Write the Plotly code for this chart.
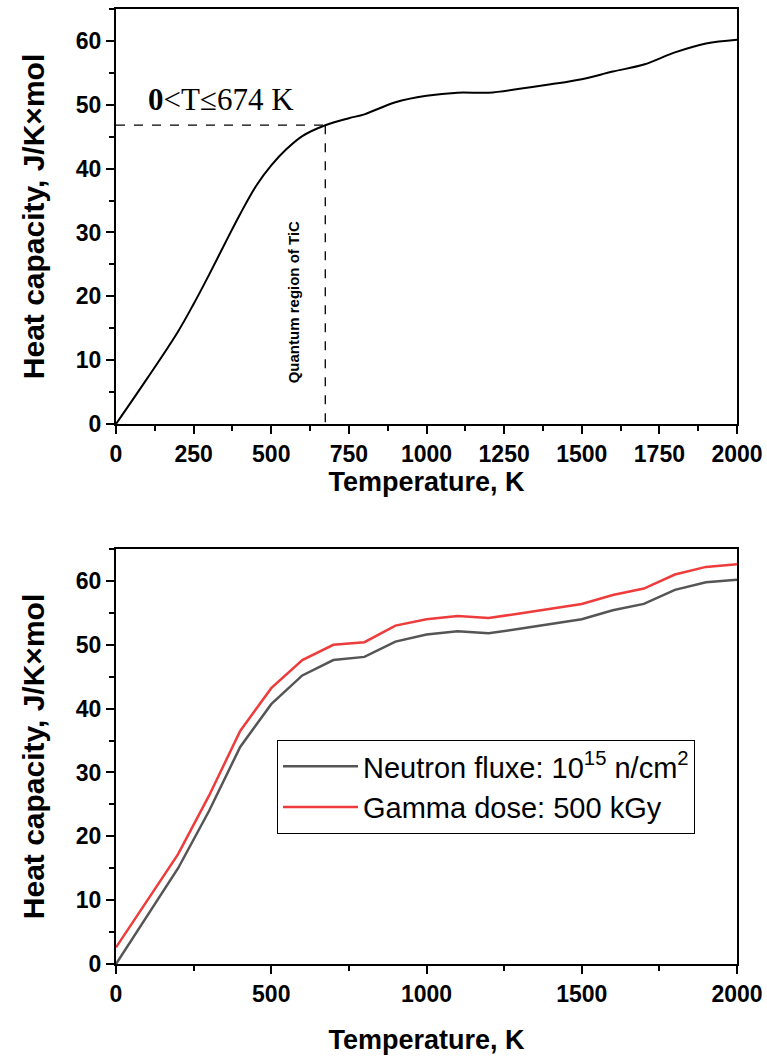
import plotly.graph_objects as go

# ---------------- data ----------------
T_top = [0, 100, 200, 250, 300, 350, 400, 450, 500, 550, 600, 674, 750, 800,
         900, 1000, 1100, 1200, 1300, 1400, 1500, 1600, 1700, 1800, 1900, 2000]
Cp_top = [0, 7.1, 14.5, 18.8, 23.4, 28.2, 32.9, 37.2, 40.5, 43.1, 45.1, 46.8,
          47.9, 48.5, 50.4, 51.4, 51.9, 51.9, 52.5, 53.2, 54.0, 55.2, 56.3, 58.2,
          59.6, 60.2]

T_bot = [0, 100, 200, 300, 400, 500, 600, 700, 800, 900, 1000, 1100, 1200, 1300,
         1400, 1500, 1600, 1700, 1800, 1900, 2000]
Cp_neutron = [0, 7.5, 15.0, 24.0, 34.0, 40.7, 45.2, 47.6, 48.1, 50.5, 51.6, 52.1,
              51.8, 52.5, 53.2, 54.0, 55.4, 56.4, 58.6, 59.8, 60.2]
Cp_gamma = [2.6, 9.8, 17.2, 26.4, 36.5, 43.2, 47.6, 50.0, 50.4, 53.0, 54.0, 54.5,
            54.2, 54.9, 55.6, 56.4, 57.8, 58.8, 61.0, 62.2, 62.6]

T_quantum = 674
Cp_quantum = 46.8

top_xticks = [0, 250, 500, 750, 1000, 1250, 1500, 1750, 2000]
bot_xticks = [0, 500, 1000, 1500, 2000]
yticks = [0, 10, 20, 30, 40, 50, 60]

# ---------------- figure ----------------
W, H = 767, 1064
ML, MR, MT, MB = 116, 30, 9, 100
PH = H - MT - MB
top_dom = [(964 - 424) / PH, 1.0]
bot_dom = [0.0, (964 - 549) / PH]

SANS = "Liberation Sans, Arial, sans-serif"
SERIF = "Liberation Serif, Times New Roman, serif"

fig = go.Figure()

fig.add_trace(go.Scatter(x=T_top, y=Cp_top, mode="lines", xaxis="x", yaxis="y",
                         line=dict(color="black", width=2, shape="spline", smoothing=1.0),
                         showlegend=False))

# dashed guide lines
fig.add_trace(go.Scatter(x=[0, T_quantum], y=[Cp_quantum, Cp_quantum], mode="lines",
                         xaxis="x", yaxis="y", showlegend=False,
                         line=dict(color="black", width=1.3, dash="dash")))
fig.add_trace(go.Scatter(x=[T_quantum, T_quantum], y=[Cp_quantum, 0], mode="lines",
                         xaxis="x", yaxis="y", showlegend=False,
                         line=dict(color="black", width=1.3, dash="dash")))

fig.add_trace(go.Scatter(x=T_bot, y=Cp_neutron, mode="lines", xaxis="x2", yaxis="y2",
                         name="Neutron fluxe: 10<sup>15</sup> n/cm<sup>2</sup>",
                         line=dict(color="#555555", width=2.5)))
fig.add_trace(go.Scatter(x=T_bot, y=Cp_gamma, mode="lines", xaxis="x2", yaxis="y2",
                         name="Gamma dose: 500 kGy",
                         line=dict(color="#ee3b3b", width=2.5)))

tickfont = dict(family=SANS, size=23, color="black", weight="bold")
titlefont = dict(family=SANS, size=27, color="black", weight="bold")
ytitlefont = dict(family=SANS, size=30, color="black", weight="bold")

def xaxis(dom_anchor, ticks, minor_dtick, standoff):
    return dict(anchor=dom_anchor, domain=[0, 1], range=[0, 2000], automargin=False,
                tickvals=ticks, ticktext=[str(t) for t in ticks],
                ticks="outside", ticklen=8, tickwidth=2, tickcolor="black",
                minor=dict(dtick=minor_dtick, ticks="outside", ticklen=5, tickwidth=2,
                           tickcolor="black", showgrid=False),
                showline=True, linewidth=2, linecolor="black", mirror=True,
                showgrid=False, zeroline=False, tickfont=tickfont,
                title=dict(text="Temperature, K", font=titlefont, standoff=standoff))

def yaxis(dom_anchor, dom):
    return dict(anchor=dom_anchor, domain=dom, range=[0, 65], automargin=False,
                tickvals=yticks, ticktext=[str(t) for t in yticks],
                ticks="outside", ticklen=8, tickwidth=2, tickcolor="black",
                minor=dict(dtick=5, ticks="outside", ticklen=5, tickwidth=2,
                           tickcolor="black", showgrid=False),
                showline=True, linewidth=2, linecolor="black", mirror=True,
                showgrid=False, zeroline=False, tickfont=tickfont,
                title=dict(text="Heat capacity, J/K×mol", font=ytitlefont, standoff=22))

fig.update_layout(
    width=W, height=H,
    margin=dict(l=ML, r=MR, t=MT, b=MB, autoexpand=False),
    paper_bgcolor="white", plot_bgcolor="white",
    xaxis=xaxis("y", top_xticks, 125, 0),
    yaxis=yaxis("x", top_dom),
    xaxis2=xaxis("y2", bot_xticks, 250, 25),
    yaxis2=yaxis("x2", bot_dom),
    legend=dict(x=(277 - ML) / (W - ML - MR), y=(964 - 740) / PH,
                xanchor="left", yanchor="top",
                font=dict(family=SANS, size=29, color="black"),
                bordercolor="black", borderwidth=1, bgcolor="white",
                tracegroupgap=0, itemwidth=75),
    annotations=[
        dict(x=97, y=50.8, xref="x", yref="y", xanchor="left", yanchor="middle",
             text="<b>0</b>&lt;T≤674 K", showarrow=False,
             font=dict(family=SERIF, size=31, color="black")),
        dict(x=572, y=19, xref="x", yref="y", textangle=-90, showarrow=False,
             text="<b>Quantum region of TiC</b>",
             font=dict(family="Liberation Sans", size=15, color="black")),
    ],
)

fig.write_html("out.html", config={"displayModeBar": False},
               post_script="document.body.style.margin='0';document.body.style.overflow='hidden';")
